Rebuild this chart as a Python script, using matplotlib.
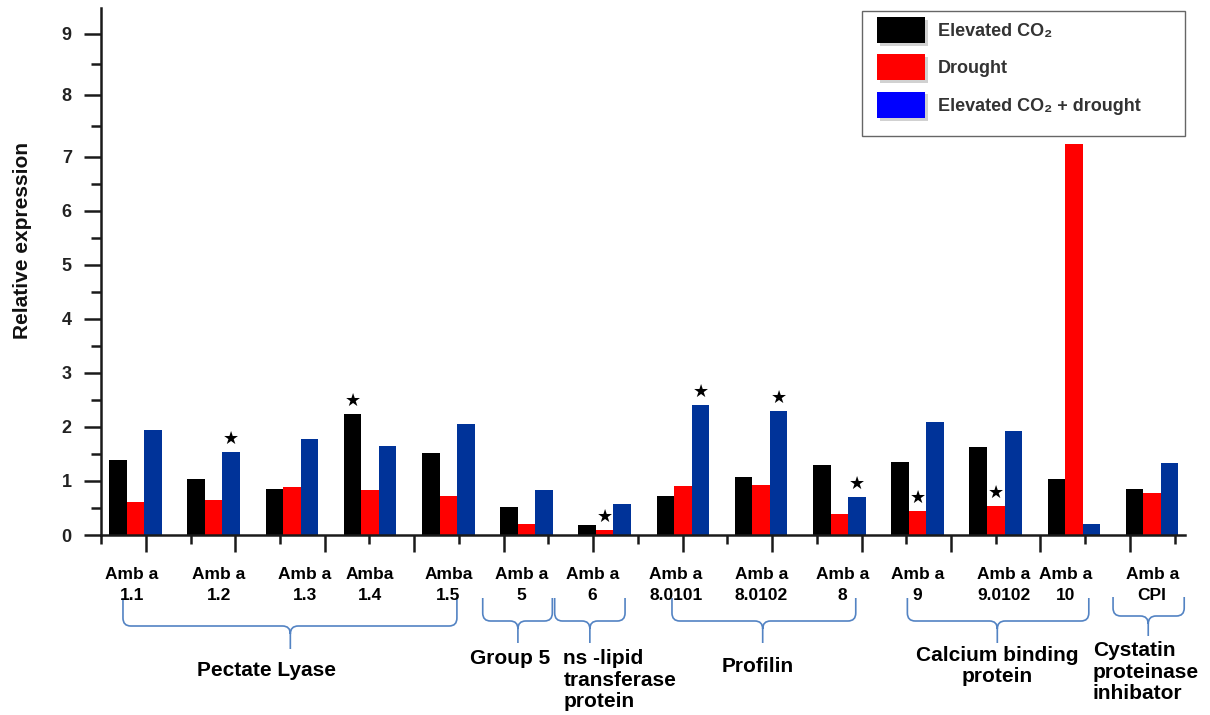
import numpy as np
import matplotlib
matplotlib.use('Agg')
import matplotlib.pyplot as plt
import matplotlib.patheffects as pe
import matplotlib.transforms as mtransforms
from matplotlib.patches import Patch, Rectangle, PathPatch
from matplotlib.path import Path

plt.rcParams['font.family'] = ['Liberation Sans', 'DejaVu Sans']

# allergen genes (x categories)
genes = ["Amb a\n1.1", "Amb a\n1.2", "Amb a\n1.3", "Amba\n1.4", "Amba\n1.5",
         "Amb a\n5", "Amb a\n6", "Amb a\n8.0101", "Amb a\n8.0102", "Amb a\n8",
         "Amb a\n9", "Amb a\n9.0102", "Amb a\n10", "Amb a\nCPI"]

elevated_co2 = [1.38, 1.04, 0.86, 2.24, 1.51, 0.51, 0.19, 0.72, 1.07, 1.30, 1.35, 1.62, 1.04, 0.86]
drought = [0.62, 0.64, 0.88, 0.84, 0.73, 0.20, 0.09, 0.90, 0.92, 0.38, 0.45, 0.54, 7.21, 0.77]
co2_drought = [1.95, 1.54, 1.78, 1.65, 2.06, 0.84, 0.57, 2.40, 2.29, 0.70, 2.10, 1.92, 0.20, 1.33]

series_names = ["Elevated CO₂", "Drought", "Elevated CO₂ + drought"]
bar_colors = ["#000000", "#ff0000", "#003399"]
legend_colors = ["#000000", "#ff0000", "#0000ff"]

# significant bars: (gene index, series index)
stars = [(1, 2), (3, 0), (6, 1), (7, 2), (8, 2), (9, 2), (10, 1), (11, 1)]

# protein families and the braces that group the genes
families = ["Pectate Lyase", "Group 5", "ns -lipid\ntransferase\nprotein",
            "Profilin", "Calcium binding\nprotein", "Cystatin\nproteinase\ninhibator"]
brace_spans = [(-0.16, 4.11, 1.98), (4.44, 5.33, 4.89), (5.36, 6.26, 5.81),
               (6.86, 9.21, 8.02), (9.87, 12.19, 11.02), (12.50, 13.41, 12.95)]

W, H = 1210, 715
fig = plt.figure(figsize=(W / 100, H / 100), dpi=100)
ax = fig.add_axes([101 / W, 1 - 535 / H, (1185 - 101) / W, (535 - 8) / H])

# the y axis of the original is stretched a little above 7
knots_v = [0, 7, 8, 9, 10]
knots_t = [0, 7, 8.15, 9.28, 10.41]
ax.set_yscale('function', functions=(lambda v: np.interp(v, knots_v, knots_t, left=-1e9),
                                     lambda t: np.interp(t, knots_t, knots_v, left=-1e9)))

x = np.arange(len(genes))
bw = 0.224
data = [elevated_co2, drought, co2_drought]
for k, (vals, col) in enumerate(zip(data, bar_colors)):
    ax.bar(x + (k - 1) * bw, vals, bw, color=col, linewidth=0, zorder=2)

for gi, si in stars:
    ax.annotate('★', xy=(gi + (si - 1) * bw, data[si][gi]), xytext=(0, 9.5),
                textcoords='offset points', ha='center', va='center',
                fontsize=13, family='DejaVu Sans', color='black')

ax.set_xlim(-0.441, 13.42)
ax.set_ylim(0, 9.42)

for s in ['top', 'right']:
    ax.spines[s].set_visible(False)
for s in ['left', 'bottom']:
    ax.spines[s].set_linewidth(1.8)
    ax.spines[s].set_color('#1a1a1a')

ax.set_yticks(range(10))
ax.set_yticks(np.arange(0.5, 9, 1), minor=True)
ax.tick_params(axis='y', which='major', length=12, width=1.8, color='#1a1a1a',
               labelsize=13, pad=9, labelcolor='#222222')
ax.tick_params(axis='y', which='minor', length=7, width=1.8, color='#1a1a1a')
for lab in ax.get_yticklabels():
    lab.set_fontweight('bold')

tick0, tick_step = -0.44, 0.572
ax.set_xticks(tick0 + tick_step * np.arange(1, 25, 2))
ax.set_xticks(tick0 + tick_step * np.arange(0, 25, 2), minor=True)
ax.set_xticklabels([])
ax.tick_params(axis='x', which='major', length=12, width=1.8, color='#1a1a1a')
ax.tick_params(axis='x', which='minor', length=6.5, width=1.8, color='#1a1a1a')

fig.text(23 / W, 1 - 241 / H, 'Relative expression', rotation=90, ha='center',
         va='center', fontsize=15, fontweight='bold', color='#111111')

# gene labels under the axis
trans = mtransforms.blended_transform_factory(ax.transData, fig.transFigure)
nudge = np.array([-3.5, 5, 13, 0, 0, -5, -12.5, -7, 0, 3, 0, 8, -8, 0]) / 78.2
for i, g in enumerate(genes):
    ax.text(x[i] + nudge[i], 1 - 585 / H, g, transform=trans, ha='center', va='center',
            fontsize=12.5, fontweight='bold', linespacing=1.5, clip_on=False)


def brace(x0, x1, xc, ytop, yh, ybot):
    f = lambda p: 1 - p / H
    r, d = 0.1, 8 / H
    verts = [(x0, f(ytop)), (x0, f(yh) + d), (x0, f(yh)), (x0 + r, f(yh)),
             (xc - r, f(yh)), (xc, f(yh)), (xc, f(yh) - d), (xc, f(ybot)),
             (xc, f(yh) - d), (xc, f(yh)), (xc + r, f(yh)),
             (x1 - r, f(yh)), (x1, f(yh)), (x1, f(yh) + d), (x1, f(ytop))]
    codes = [Path.MOVETO, Path.LINETO, Path.CURVE3, Path.CURVE3,
             Path.LINETO, Path.CURVE3, Path.CURVE3, Path.LINETO,
             Path.MOVETO, Path.CURVE3, Path.CURVE3,
             Path.LINETO, Path.CURVE3, Path.CURVE3, Path.LINETO]
    ax.add_patch(PathPatch(Path(verts, codes), transform=trans, fill=False,
                           edgecolor='#5383c3', linewidth=1.2, clip_on=False))


for i, (x0, x1, xc) in enumerate(brace_spans):
    if i == 0:
        brace(x0, x1, xc, 598, 626, 649)
    elif i == 5:
        brace(x0, x1, xc, 597, 616, 636)
    else:
        brace(x0, x1, xc, 598, 621, 643)

fam_pos = [(1.68, 670, 'center'), (4.79, 658, 'center'), (5.47, 680, 'left'),
           (7.95, 666, 'center'), (11.02, 666, 'center'), (12.24, 672, 'left')]
for name, (fx, fy, ha) in zip(families, fam_pos):
    ax.text(fx, 1 - fy / H, name, transform=trans, ha=ha, va='center',
            multialignment=ha, fontsize=15, fontweight='bold', linespacing=1.15,
            clip_on=False)

# legend
handles = [Patch(facecolor=c, edgecolor='none') for c in legend_colors]
leg = ax.legend(handles, series_names, loc='upper left', bbox_to_anchor=(877 / W, 1 - 17 / H),
                bbox_transform=fig.transFigure, frameon=False, borderpad=0, borderaxespad=0,
                handlelength=2.65, handleheight=1.85, labelspacing=0.62, handletextpad=0.72,
                prop={'size': 13, 'weight': 'bold'})
for t in leg.get_texts():
    t.set_color('#333333')
for p in leg.get_patches():
    p.set_path_effects([pe.SimplePatchShadow(offset=(2, -2), shadow_rgbFace='0.82', alpha=1.0),
                        pe.Normal()])
fig.add_artist(Rectangle((862 / W, 1 - 136 / H), (1185 - 862) / W, (136 - 11) / H,
                         transform=fig.transFigure, fill=False, edgecolor='#666666', linewidth=1))

fig.savefig('out.png', dpi=100)
